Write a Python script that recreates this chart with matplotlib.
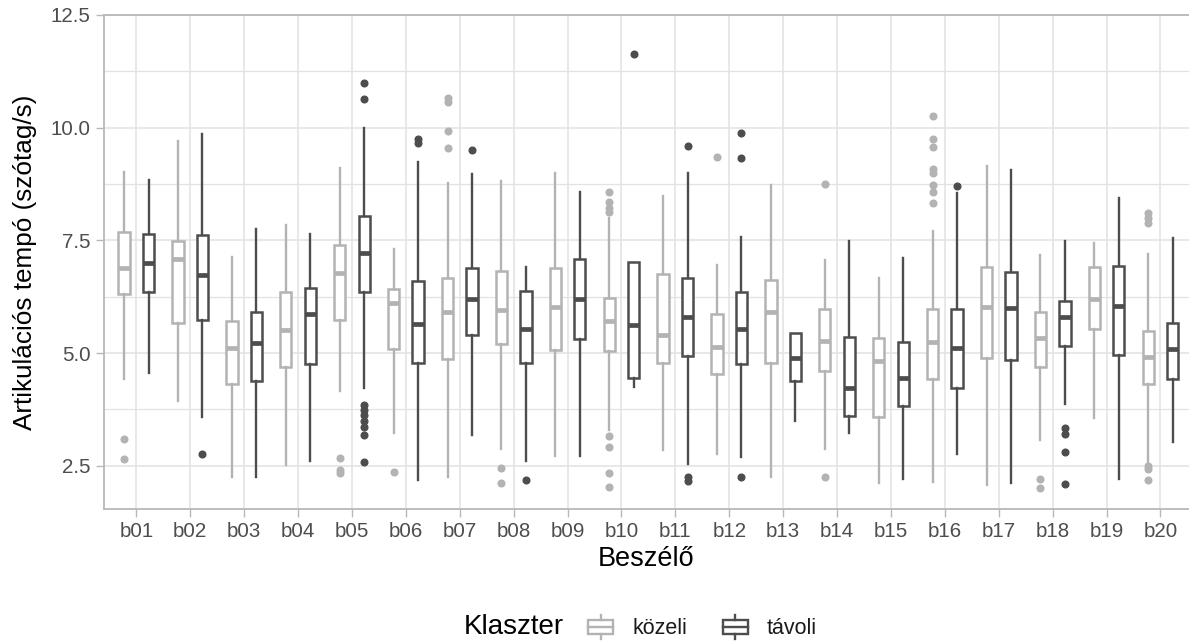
import matplotlib
matplotlib.use("Agg")
import matplotlib.pyplot as plt
from matplotlib.patches import Patch, Rectangle
from matplotlib.lines import Line2D
from matplotlib.legend_handler import HandlerBase
import numpy as np

plt.rcParams["font.family"] = ["Liberation Sans", "DejaVu Sans"]

LIGHT, DARK = "#b3b3b3", "#4d4d4d"
GRID, BORDER, TICKTXT = "#e2e2e2", "#b8b8b8", "#4d4d4d"

speakers = [f"b{i:02d}" for i in range(1, 21)]

# közeli cluster: whisker low, Q1, median, Q3, whisker high, outliers
koz_lo = [4.42, 3.94, 2.26, 2.51, 4.16, 3.22, 2.26, 2.88, 2.72, 3.29,
          2.86, 2.76, 2.26, 2.88, 2.12, 2.14, 2.07, 3.08, 3.55, 2.55]
koz_q1 = [6.31, 5.66, 4.31, 4.68, 5.73, 5.10, 4.86, 5.19, 5.07, 5.05,
          4.77, 4.53, 4.77, 4.61, 3.59, 4.42, 4.90, 4.68, 5.53, 4.31]
koz_med = [6.88, 7.08, 5.12, 5.51, 6.77, 6.12, 5.92, 5.95, 6.03, 5.70,
           5.40, 5.14, 5.92, 5.27, 4.82, 5.24, 6.03, 5.34, 6.19, 4.92]
koz_q3 = [7.68, 7.49, 5.70, 6.35, 7.40, 6.42, 6.67, 6.81, 6.89, 6.23,
          6.75, 5.87, 6.61, 5.97, 5.34, 5.97, 6.92, 5.92, 6.92, 5.50]
koz_hi = [9.01, 9.71, 7.12, 7.83, 9.10, 7.30, 8.78, 8.82, 8.99, 7.99,
          8.49, 6.95, 8.73, 7.06, 6.66, 7.71, 9.16, 7.18, 7.45, 7.20]
koz_out = [[3.09, 2.64], [], [], [], [2.67, 2.40, 2.34], [2.37],
           [10.65, 10.58, 9.93, 9.54], [2.45, 2.12], [],
           [8.58, 8.36, 8.21, 8.14, 3.17, 2.92, 2.34, 2.03], [], [9.36], [],
           [8.75, 2.24], [], [10.26, 9.74, 9.58, 9.08, 8.99, 8.73, 8.58, 8.34],
           [], [2.20, 2.01], [], [8.10, 7.99, 7.88, 2.49, 2.42, 2.18]]

# távoli cluster
tav_lo = [4.56, 3.59, 2.26, 2.61, 4.23, 2.18, 3.18, 2.61, 2.72, 4.25,
          2.54, 2.69, 3.50, 3.22, 2.20, 2.77, 2.12, 3.88, 2.20, 3.03]
tav_q1 = [6.36, 5.73, 4.39, 4.75, 6.36, 4.77, 5.40, 4.77, 5.31, 4.44,
          4.93, 4.75, 4.39, 3.61, 3.83, 4.23, 4.85, 5.16, 4.96, 4.42]
tav_med = [6.99, 6.74, 5.23, 5.86, 7.23, 5.64, 6.19, 5.53, 6.19, 5.62,
           5.81, 5.53, 4.90, 4.22, 4.44, 5.12, 5.99, 5.81, 6.05, 5.09]
tav_q3 = [7.65, 7.62, 5.92, 6.44, 8.03, 6.60, 6.89, 6.38, 7.08, 7.03,
          6.67, 6.35, 5.44, 5.36, 5.24, 5.97, 6.79, 6.15, 6.94, 5.67]
tav_hi = [8.85, 9.85, 7.75, 7.64, 10.00, 9.23, 8.97, 6.90, 8.58, 7.03,
          8.99, 7.58, 5.44, 7.49, 7.10, 8.56, 9.06, 7.49, 8.43, 7.56]
tav_out = [[], [2.75], [], [],
           [10.99, 10.64, 3.85, 3.74, 3.63, 3.50, 3.37, 3.18, 2.59],
           [9.76, 9.66], [9.51], [2.18], [], [11.63], [9.59, 2.24, 2.17],
           [9.89, 9.32, 2.26], [], [], [], [8.71], [], [3.33, 3.20, 2.81, 2.10],
           [], []]


def box_stats(lo, q1, med, q3, hi, out):
    return [dict(whislo=a, q1=b, med=c, q3=d, whishi=e, fliers=f)
            for a, b, c, d, e, f in zip(lo, q1, med, q3, hi, out)]


fig = plt.figure(figsize=(11.89, 6.41), dpi=100)
ax = fig.add_axes([104 / 1189, 132 / 641, 1088.8 / 1189, 494 / 641])

x = np.arange(1, len(speakers) + 1)
groups = [(box_stats(koz_lo, koz_q1, koz_med, koz_q3, koz_hi, koz_out), -0.227, LIGHT),
          (box_stats(tav_lo, tav_q1, tav_med, tav_q3, tav_hi, tav_out), 0.227, DARK)]
for stats, off, col in groups:
    ax.bxp(stats, positions=x + off, widths=0.21, showcaps=False,
           patch_artist=True, manage_ticks=False,
           boxprops=dict(facecolor="white", edgecolor=col, linewidth=1.8),
           whiskerprops=dict(color=col, linewidth=1.7),
           medianprops=dict(color=col, linewidth=3.4, solid_capstyle="butt"),
           flierprops=dict(marker="o", markerfacecolor=col, markeredgecolor=col,
                           markersize=4.8, linestyle="none"))

ax.set_xlim(0.4, 20.6)
ax.set_ylim(1.54, 12.5)
ax.set_xticks(x, speakers)
ax.set_yticks([2.5, 5.0, 7.5, 10.0, 12.5], ["2.5", "5.0", "7.5", "10.0", "12.5"])
ax.set_yticks([3.75, 6.25, 8.75, 11.25], minor=True)
ax.grid(which="major", color=GRID, linewidth=1.1)
ax.grid(which="minor", axis="y", color=GRID, linewidth=0.9)
ax.set_axisbelow(True)
for sp in ax.spines.values():
    sp.set_color(BORDER)
    sp.set_linewidth(1.3)
ax.tick_params(which="major", length=6, width=1.0, color=BORDER,
               labelcolor=TICKTXT, labelsize=14.8, pad=3.5)
ax.tick_params(which="minor", length=0)

fig.text(25 / 1189, 1 - 262 / 641, "Artikulációs tempó (szótag/s)",
         rotation=90, ha="center", va="center", fontsize=18.8, color="black")
fig.text(646 / 1189, 1 - 559 / 641, "Beszélő", ha="center", va="center",
         fontsize=19.5, color="black")


class BoxKey(HandlerBase):
    # small boxplot glyph for the legend keys
    def create_artists(self, legend, orig, xd, yd, w, h, fontsize, trans):
        c = orig.get_edgecolor()
        x0, y0 = -xd, -yd
        kw = dict(color=c, linewidth=1.7, transform=trans)
        box = Rectangle((x0 + 0.1 * w, y0 + 0.22 * h), 0.8 * w, 0.56 * h,
                        facecolor="white", edgecolor=c, linewidth=1.7, transform=trans)
        med = Line2D([x0 + 0.1 * w, x0 + 0.9 * w], [y0 + 0.5 * h] * 2, **kw)
        top = Line2D([x0 + 0.5 * w] * 2, [y0 + 0.78 * h, y0 + h], **kw)
        bot = Line2D([x0 + 0.5 * w] * 2, [y0, y0 + 0.22 * h], **kw)
        return [box, med, top, bot]


handles = [Patch(facecolor="white", edgecolor=LIGHT, label="közeli"),
           Patch(facecolor="white", edgecolor=DARK, label="távoli")]
fig.text(464 / 1189, 1 - 627 / 641, "Klaszter", ha="left", va="center",
         fontsize=20, color="black")
fig.legend(handles=handles, handler_map={Patch: BoxKey()}, ncol=2,
           loc="center left", bbox_to_anchor=(585 / 1189, 1 - 627 / 641),
           frameon=False, fontsize=15.5, labelcolor="#1a1a1a",
           handlelength=1.45, handleheight=1.35, handletextpad=0.75,
           columnspacing=1.5, borderpad=0, borderaxespad=0)

fig.savefig("out.png", dpi=100)
